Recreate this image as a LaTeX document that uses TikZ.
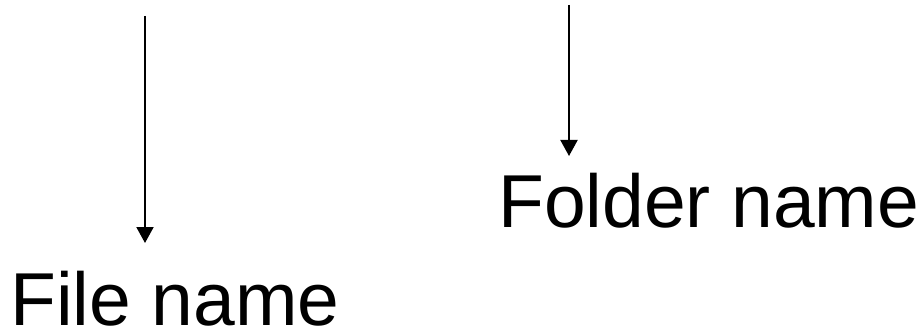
\documentclass[tikz,border=0pt]{standalone}
\usepackage{fontspec}
\setmainfont{Liberation Sans}
\usetikzlibrary{arrows.meta}
\begin{document}
\begin{tikzpicture}[x=1pt,y=-1pt,
  label text/.style={inner sep=0pt,anchor=base west,font=\fontsize{75}{90}\selectfont},
  pointer/.style={line width=2pt,-{Triangle[width=17pt,length=16pt]}}]
  \useasboundingbox (0,0) rectangle (920,331);
  % labels
  \node[label text] (fileLabel) at (10,325) {File name};
  \node[label text] (folderLabel) at (498,227) {Folder name};
  % pointer ends
  \coordinate (fileTop) at (145,16);
  \coordinate (fileTip) at (145,243);
  \coordinate (folderTop) at (569,5);
  \coordinate (folderTip) at (569,156);
  % pointers
  \draw[pointer] (fileTop) -- (fileTip);
  \draw[pointer] (folderTop) -- (folderTip);
\end{tikzpicture}
\end{document}
